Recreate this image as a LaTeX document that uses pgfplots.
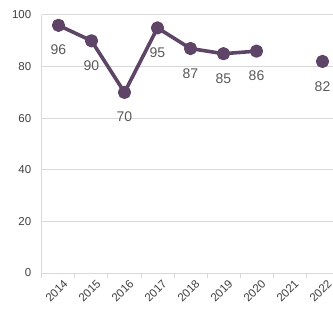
\documentclass[border=0pt]{standalone}
\usepackage{pgfplots}
\pgfplotsset{compat=1.18}
\usepackage{fontspec}
\setmainfont{Liberation Sans}
\definecolor{lineC}{RGB}{94,68,102}
\definecolor{gridC}{RGB}{217,217,217}
\definecolor{tickC}{RGB}{64,64,64}
\definecolor{lblC}{RGB}{89,89,89}
\begin{document}
\begin{tikzpicture}
\useasboundingbox (-42bp,-42bp) rectangle (291bp,273bp);
\begin{axis}[
  scale only axis,
  width=291bp, height=258bp,
  at={(0,0)}, anchor=south west,
  xmin=-0.5, xmax=8.318,
  ymin=0, ymax=100,
  ytick={0,20,40,60,80,100},
  xtick={0,...,8},
  xticklabels={2014,2015,2016,2017,2018,2019,2020,2021,2022},
  minor xtick={-0.5,0.5,1.5,2.5,3.5,4.5,5.5,6.5,7.5},
  major x tick style={draw=none},
  minor x tick style={draw=gridC, line width=1bp},
  minor tick length=5bp,
  tick align=outside,
  ytick style={draw=none},
  axis x line*=bottom, axis y line*=left,
  axis line style={draw=gridC, line width=1bp, -},
  ymajorgrids, major grid style={draw=gridC, line width=1bp},
  /pgf/number format/assume math mode=true,
  yticklabel style={font=\fontsize{11.5bp}{13bp}\selectfont, text=tickC, anchor=east, xshift=-3bp},
  xticklabel style={font=\fontsize{11.5bp}{13bp}\selectfont, text=tickC, rotate=45, anchor=north east, xshift=3bp, yshift=-3bp, inner sep=1bp},
  unbounded coords=jump,
  clip=false,
  nodes near coords,
  every node near coord/.append style={font=\fontsize{14bp}{16bp}\selectfont, text=lblC, anchor=north, yshift=-18bp, inner sep=0pt},
]
\addplot[color=lineC, line width=3.6bp, line join=round, mark=*, mark size=4.8bp, mark options={solid, fill=lineC, draw=none}] coordinates {
(0,96) (1,90) (2,70) (3,95) (4,87) (5,85) (6,86) (7,nan) (8,82)
};
\end{axis}
\end{tikzpicture}
\end{document}
